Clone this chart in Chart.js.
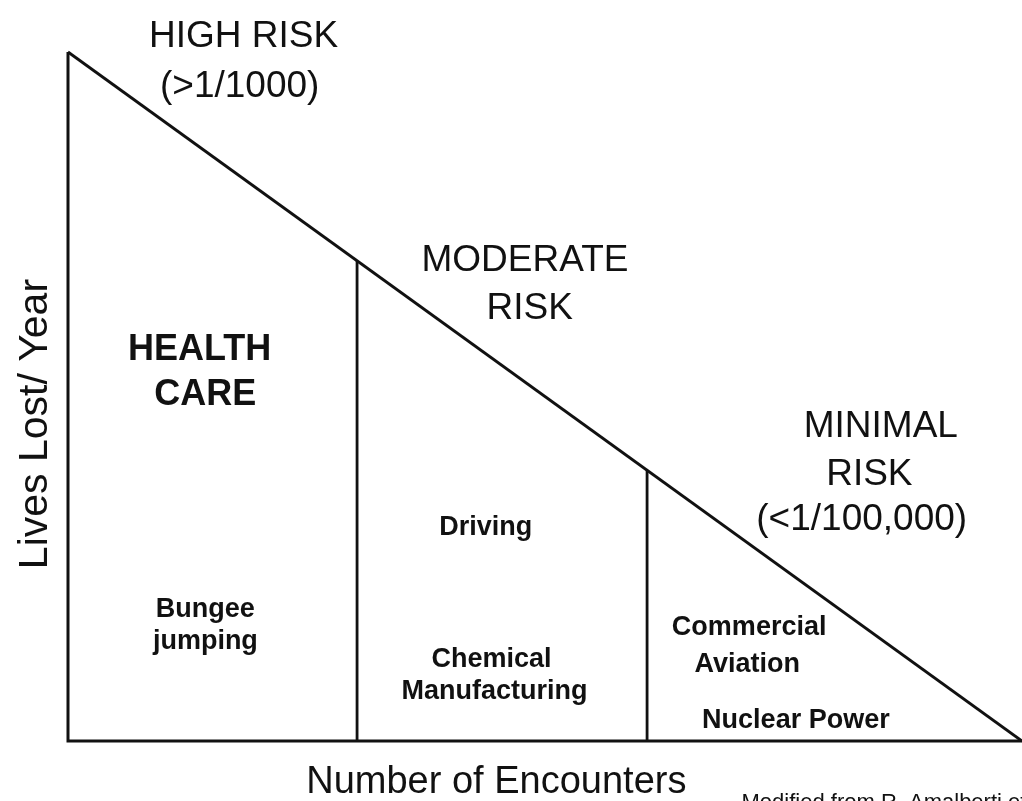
<!DOCTYPE html>
<html>
<head>
<meta charset="utf-8">
<script src="https://cdn.jsdelivr.net/npm/chart.js@4.4.1/dist/chart.umd.min.js"></script>
<style>
  html, body { margin: 0; padding: 0; background: #ffffff; }
  #wrap { position: relative; width: 1022px; height: 801px; }
</style>
</head>
<body>
<div id="wrap"><canvas id="c"></canvas></div>
<script>
// ---- Data ----
const riskLineX = [0, 100];          // relative number of encounters
const riskLineY = [100, 0];          // relative lives lost / year
const axisX = [0, 0, 100];
const axisY = [100, 0, 0];
const dividerX = [30.3, 60.7];       // zone boundaries
const dividerTopY = [69.7, 39.3];    // where each boundary meets the risk line
const zoneTitles = ['HIGH RISK', 'MODERATE RISK', 'MINIMAL RISK'];
const zoneRates = ['(>1/1000)', '', '(<1/100,000)'];
const activities = ['HEALTH CARE', 'Bungee jumping', 'Driving', 'Chemical Manufacturing', 'Commercial Aviation', 'Nuclear Power'];
const xAxisTitle = 'Number of Encounters';
const yAxisTitle = 'Lives Lost/ Year';
const sourceNote = 'Modified from R. Amalberti et al.';

const toPts = (xs, ys) => xs.map((x, i) => ({ x: x, y: ys[i] }));

// ---- Annotation layout (data coordinates) ----
const REG = '"Liberation Sans", Arial, Helvetica, sans-serif';
const textItems = [
  { t: zoneTitles[0], x: 18.4, y: 100.7, size: 37, bold: false },
  { t: zoneRates[0], x: 18.0, y: 93.5, size: 37, bold: false },
  { t: 'MODERATE', x: 47.9, y: 68.2, size: 37, bold: false },
  { t: 'RISK', x: 48.4, y: 61.2, size: 37, bold: false },
  { t: 'MINIMAL', x: 85.2, y: 44.1, size: 37, bold: false },
  { t: 'RISK', x: 84.0, y: 37.2, size: 37, bold: false },
  { t: zoneRates[2], x: 83.2, y: 30.6, size: 37, bold: false },
  { t: 'HEALTH', x: 13.8, y: 55.3, size: 36, bold: true },
  { t: 'CARE', x: 14.4, y: 48.8, size: 36, bold: true },
  { t: 'Bungee', x: 14.4, y: 18.0, size: 27, bold: true },
  { t: 'jumping', x: 14.4, y: 13.4, size: 27, bold: true },
  { t: 'Driving', x: 43.8, y: 29.9, size: 27, bold: true },
  { t: 'Chemical', x: 44.4, y: 10.7, size: 27, bold: true },
  { t: 'Manufacturing', x: 44.7, y: 6.1, size: 27, bold: true },
  { t: 'Commercial', x: 71.4, y: 15.4, size: 27, bold: true },
  { t: 'Aviation', x: 71.2, y: 10.0, size: 27, bold: true },
  { t: activities[5], x: 76.3, y: 1.9, size: 27, bold: true },
  { t: xAxisTitle, x: 44.9, y: -7.5, size: 38, bold: false },
  { t: sourceNote, x: 70.6, y: -9.9, size: 22, bold: false, align: 'left' },
  { t: yAxisTitle, x: -2.2, y: 46.0, size: 41, bold: false, rotate: true }
];

const textPlugin = {
  id: 'riskText',
  afterDraw(chart) {
    const { ctx, scales } = chart;
    ctx.save();
    ctx.fillStyle = '#111111';
    ctx.textBaseline = 'alphabetic';
    textItems.forEach(it => {
      const px = scales.x.getPixelForValue(it.x);
      const py = scales.y.getPixelForValue(it.y);
      ctx.font = (it.bold ? 'bold ' : '') + it.size + 'px ' + REG;
      ctx.textAlign = it.align || 'center';
      if (it.rotate) {
        ctx.save();
        ctx.translate(px, py);
        ctx.rotate(-Math.PI / 2);
        ctx.fillText(it.t, 0, 0);
        ctx.restore();
      } else {
        ctx.fillText(it.t, px, py);
      }
    });
    ctx.restore();
  }
};

const lineStyle = { borderColor: '#111111', borderWidth: 3, pointRadius: 0, showLine: true, fill: false, clip: false, tension: 0 };

const datasets = [
  Object.assign({ label: 'axes', data: toPts(axisX, axisY) }, lineStyle),
  Object.assign({ label: 'risk line', data: toPts(riskLineX, riskLineY) }, lineStyle, { borderWidth: 2.8 }),
];
dividerX.forEach((dx, i) => {
  datasets.push(Object.assign({ label: 'divider ' + (i + 1), data: toPts([dx, dx], [0, dividerTopY[i]]) }, lineStyle, { borderWidth: 2.8 }));
});

new Chart(document.getElementById('c'), {
  type: 'scatter',
  data: { datasets: datasets },
  options: {
    responsive: true,
    maintainAspectRatio: false,
    animation: false,
    layout: { padding: { left: 68, right: 0, top: 52, bottom: 60 } },
    plugins: { legend: { display: false }, tooltip: { enabled: false } },
    scales: {
      x: { type: 'linear', min: 0, max: 100, display: false },
      y: { type: 'linear', min: 0, max: 100, display: false }
    }
  },
  plugins: [textPlugin]
});
</script>
</body>
</html>
